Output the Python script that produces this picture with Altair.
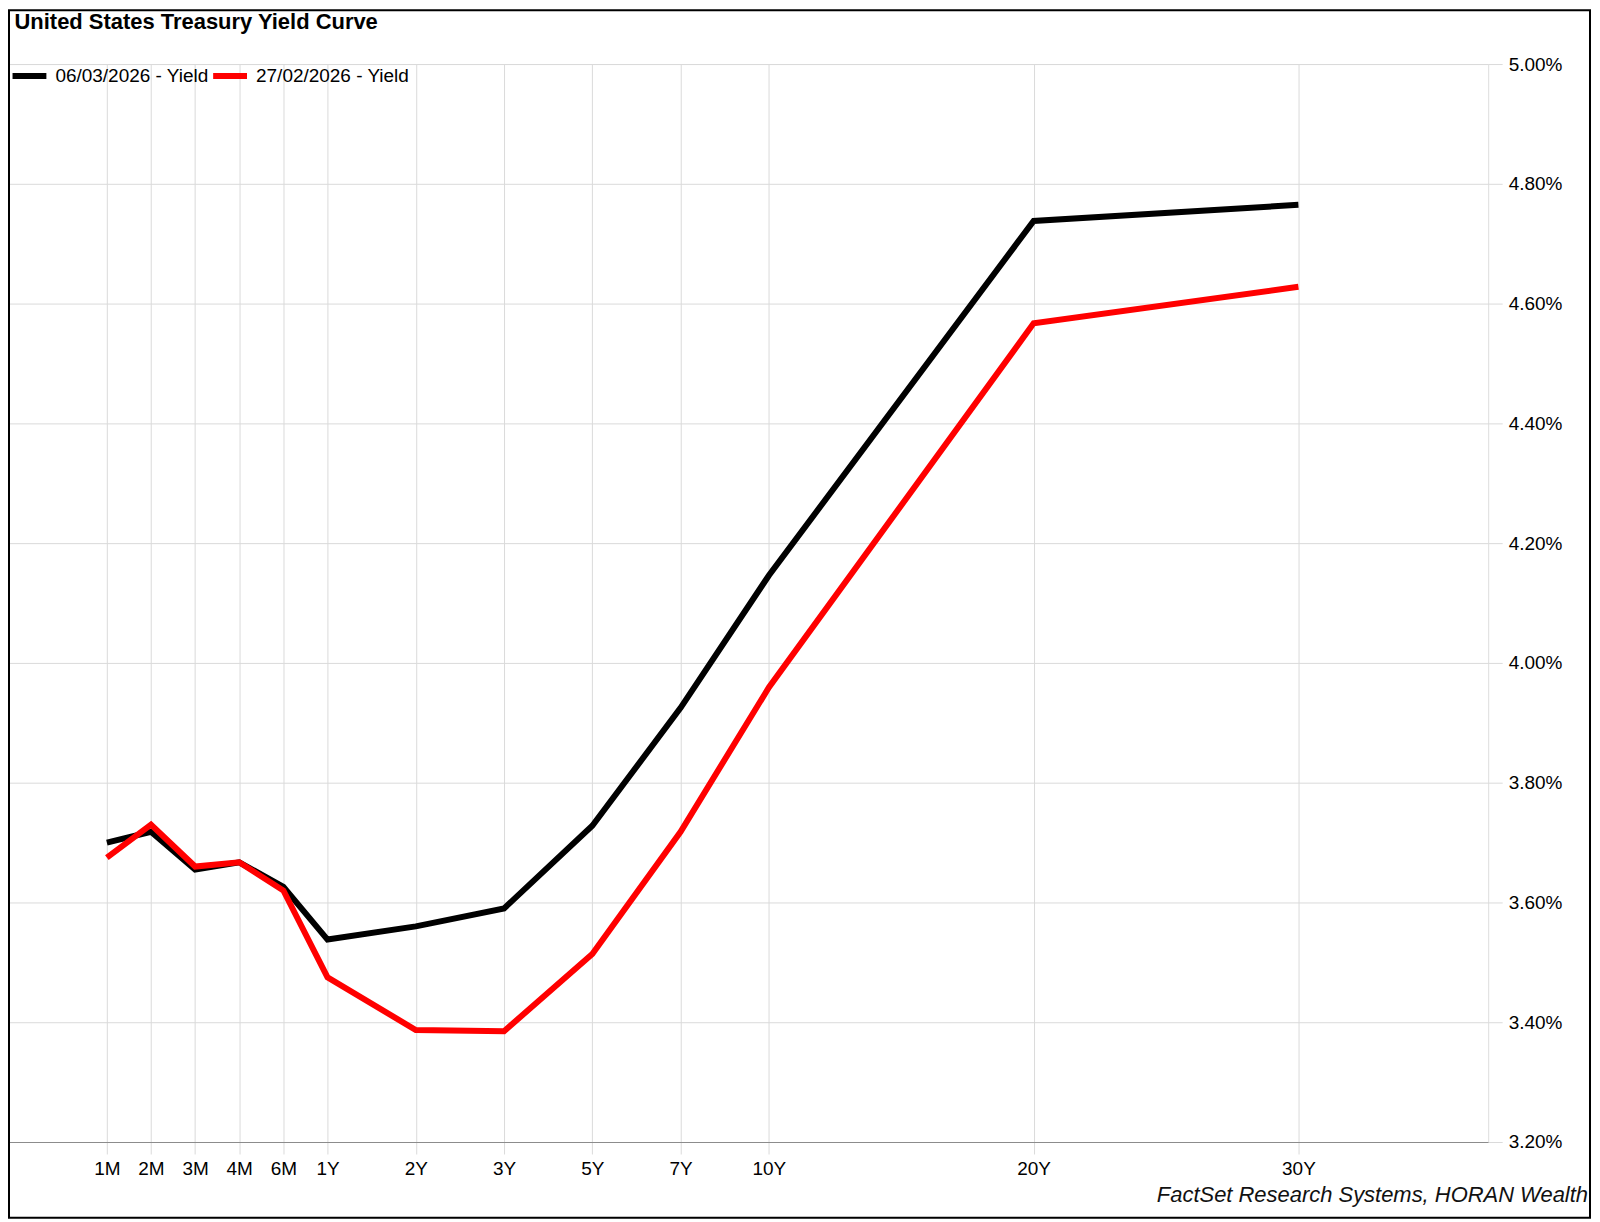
import altair as alt
import pandas as pd

tenors = ["1M", "2M", "3M", "4M", "6M", "1Y", "2Y", "3Y", "5Y", "7Y", "10Y", "20Y", "30Y"]
slots = [0, 1, 2, 3, 4, 5, 7, 9, 11, 13, 15, 21, 27]
series_names = ["06/03/2026 - Yield", "27/02/2026 - Yield"]
yield_0603 = [3.700, 3.718, 3.655, 3.667, 3.626, 3.538, 3.560, 3.590, 3.728, 3.925, 4.146, 4.738, 4.765]
yield_2702 = [3.675, 3.730, 3.660, 3.667, 3.620, 3.475, 3.387, 3.385, 3.514, 3.718, 3.959, 4.567, 4.628]
y_ticks = [3.2, 3.4, 3.6, 3.8, 4.0, 4.2, 4.4, 4.6, 4.8, 5.0]
title_text = "United States Treasury Yield Curve"
source_text = "FactSet Research Systems, HORAN Wealth"

rows = []
for name, vals in zip(series_names, [yield_0603, yield_2702]):
    for t, s, v in zip(tenors, slots, vals):
        rows.append({"series": name, "tenor": t, "slot": s, "yield": v})
df = pd.DataFrame(rows)

FONT = "Liberation Sans"
GRID = "#dadada"

label_expr = (
    "[" + ",".join("'" + t + "'" for t in tenors) + "][indexof(["
    + ",".join(str(s) for s in slots) + "], datum.value)]"
)

lines = alt.Chart(df).mark_line(strokeWidth=6).encode(
    x=alt.X(
        "slot:Q",
        scale=alt.Scale(domain=[-2.24, 31.30], nice=False, zero=False),
        axis=alt.Axis(
            values=slots, labelExpr=label_expr, title=None, grid=True,
            gridColor=GRID, tickSize=12, tickColor=GRID, domainColor="#8c8c8c",
            labelFontSize=19, labelPadding=6, labelColor="#000", labelFont=FONT,
        ),
    ),
    y=alt.Y(
        "yield:Q",
        scale=alt.Scale(domain=[3.2, 5.0], nice=False, zero=False),
        axis=alt.Axis(
            orient="right", values=y_ticks, title=None, grid=True, gridColor=GRID,
            labelExpr="format(datum.value, '.2f') + '%'", tickSize=14, tickColor=GRID,
            domain=False, labelFontSize=19, labelPadding=6, labelColor="#000",
            labelFont=FONT, labelBaseline="middle",
        ),
    ),
    color=alt.Color(
        "series:N",
        scale=alt.Scale(domain=series_names, range=["#000000", "#ff0000"]),
        legend=alt.Legend(
            orient="none", legendX=1.5, legendY=-8, direction="horizontal", title=None,
            symbolType="stroke", symbolSize=1150, symbolStrokeWidth=6,
            labelFontSize=19, labelOffset=6, columnPadding=-8, padding=0,
            labelColor="#000", labelFont=FONT,
        ),
    ),
)

one = pd.DataFrame({"t": [0]})
frame = alt.Chart(one).mark_rect(fill=None, stroke="#000", strokeWidth=2).encode(
    x=alt.value(1), x2=alt.value(1585), y=alt.value(-54), y2=alt.value(1156)
)

title = alt.Chart(pd.DataFrame({"t": [title_text]})).mark_text(
    align="left", baseline="alphabetic", fontSize=22, fontWeight="bold", font=FONT, color="#000"
).encode(text="t:N", x=alt.value(6.5), y=alt.value(-35.5))

source = alt.Chart(pd.DataFrame({"t": [source_text]})).mark_text(
    align="right", baseline="alphabetic", fontSize=22, fontStyle="italic", font=FONT, color="#111"
).encode(text="t:N", x=alt.value(1583), y=alt.value(1140.6))

chart = alt.layer(frame, lines, title, source).properties(
    width=1483, height=1080, autosize="none",
    padding={"left": 0, "top": 55, "right": 104, "bottom": 78},
    background="white",
).configure_view(stroke=GRID).configure(font=FONT)

chart.save("out.html", embed_options={"renderer": "svg", "actions": False})
